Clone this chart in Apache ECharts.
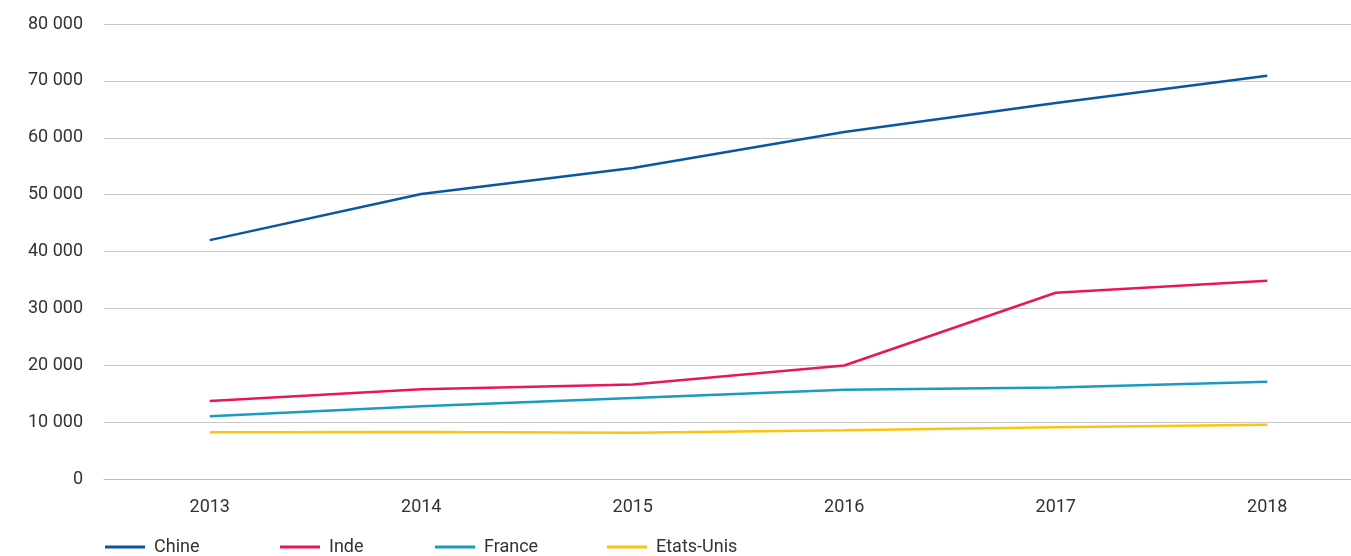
<!DOCTYPE html>
<html>
<head>
<meta charset="utf-8">
<script src="https://cdn.jsdelivr.net/npm/echarts@6/dist/echarts.min.js"></script>
<style>
  html, body { margin: 0; padding: 0; background: #fff; }
  #chart { width: 1351px; height: 556px; }
</style>
</head>
<body>
<div id="chart"></div>
<script>
// données
const years = ['2013', '2014', '2015', '2016', '2017', '2018'];
const chine = [42000, 50100, 54700, 61000, 66100, 70900];
const inde = [13700, 15800, 16600, 19950, 32750, 34850];
const france = [11050, 12800, 14250, 15700, 16100, 17100];
const etatsUnis = [8200, 8250, 8150, 8550, 9080, 9550];
const seriesNames = ['Chine', 'Inde', 'France', 'Etats-Unis'];
const colors = ['#0b56a1', '#e8175d', '#1a9bc0', '#fbc313'];
// position gauche de chaque entrée de légende
const legendLeft = [105, 280, 435, 607];

const chart = echarts.init(document.getElementById('chart'));

const fmt = (v) => String(v).replace(/\B(?=(\d{3})+(?!\d))/g, ' ');

const series = [chine, inde, france, etatsUnis].map((d, i) => ({
  name: seriesNames[i],
  type: 'line',
  data: d,
  symbol: 'none',
  lineStyle: { width: 2.5, color: colors[i] },
  itemStyle: { color: colors[i] },
}));

const legends = seriesNames.map((n, i) => ({
  left: legendLeft[i],
  top: 538,
  padding: 0,
  itemWidth: 40,
  itemHeight: 3,
  icon: 'rect',
  textStyle: { color: '#333', fontSize: 18, fontFamily: 'Roboto', padding: [0, 0, 0, 4] },
  data: [n],
}));

chart.setOption({
  backgroundColor: '#fff',
  animation: false,
  color: colors,
  textStyle: { fontFamily: 'Roboto' },
  grid: {
    left: 104,
    right: -22,
    top: 24,
    bottom: 77,
    outerBoundsMode: 'none',
  },
  legend: legends,
  xAxis: {
    type: 'category',
    data: years,
    boundaryGap: true,
    axisLine: { lineStyle: { color: '#bbb', width: 1 } },
    axisTick: { alignWithLabel: true, length: 11, lineStyle: { color: '#bbb' } },
    axisLabel: { color: '#333', fontSize: 18, margin: 19 },
  },
  yAxis: {
    type: 'value',
    min: 0,
    max: 80000,
    interval: 10000,
    axisLine: { show: false },
    axisTick: { show: false },
    axisLabel: { color: '#333', fontSize: 18, margin: 21, formatter: fmt },
    splitLine: { lineStyle: { color: '#c8c8c8', width: 1 } },
  },
  series: series,
});
</script>
</body>
</html>
